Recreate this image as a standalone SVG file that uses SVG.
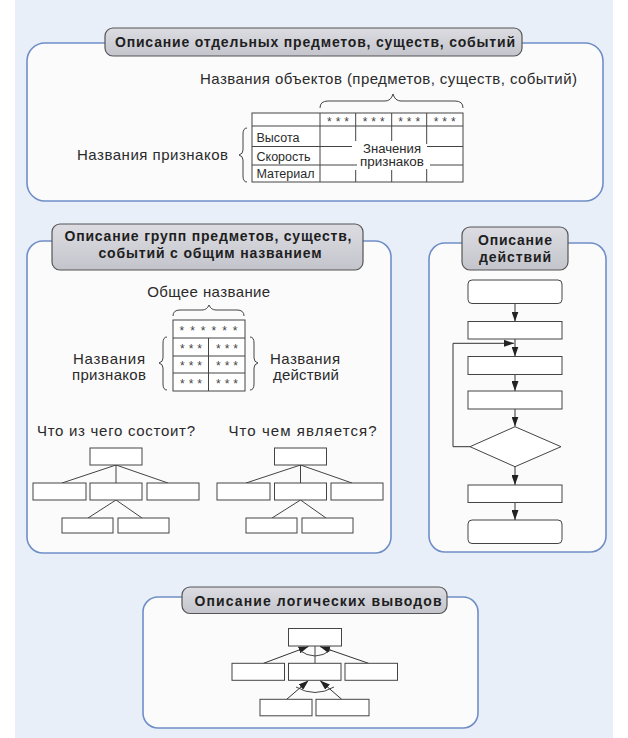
<svg xmlns="http://www.w3.org/2000/svg" width="628" height="738" viewBox="0 0 628 738">
<defs>
<linearGradient id="tg" x1="0" y1="0" x2="0" y2="1">
<stop offset="0" stop-color="#dcdce2"/>
<stop offset="1" stop-color="#c4c4cc"/>
</linearGradient>
<marker id="ah" markerUnits="userSpaceOnUse" markerWidth="10" markerHeight="7" refX="10" refY="3.5" orient="auto">
<path d="M0,0 L10,3.5 L0,7 z" fill="#222"/>
</marker>
</defs>
<style>
.panel{fill:#fbfbfc;stroke:#6f8ec6;stroke-width:1.6}
.tbox{fill:url(#tg);stroke:#555;stroke-width:1.2}
.tt{font-family:"Liberation Sans",Arial,sans-serif;font-weight:bold;font-size:14px;fill:#1e1e1e;text-anchor:middle}
.t{font-family:"Liberation Sans",Arial,sans-serif;font-size:15px;fill:#2a2a2a}
.ts{font-family:"Liberation Sans",Arial,sans-serif;font-size:12.5px;fill:#2a2a2a}
.st{font-family:"Liberation Sans",Arial,sans-serif;font-size:12px;fill:#444;text-anchor:middle}
.c{text-anchor:middle}
.b{fill:#fff;stroke:#444;stroke-width:1}
.ln{fill:none;stroke:#444;stroke-width:1}
.ar{fill:none;stroke:#333;stroke-width:1;marker-end:url(#ah)}
</style>
<rect x="0" y="0" width="628" height="738" fill="#ffffff"/>
<rect x="15" y="0" width="598" height="738" fill="#e9eff8"/>

<!-- Panel 1 -->
<g id="panel-objects">
<rect class="panel" x="27" y="43" width="576" height="158" rx="18"/>
<rect class="tbox" x="105" y="28" width="417" height="28" rx="8"/>
<text class="tt" x="315" y="47" textLength="400" lengthAdjust="spacing">Описание отдельных предметов, существ, событий</text>
<text class="t c" x="388.5" y="84" textLength="377" lengthAdjust="spacing">Названия объектов (предметов, существ, событий)</text>
<text class="t" x="77" y="160" textLength="151" lengthAdjust="spacing">Названия признаков</text>
<path class="ln" d="M320,108 Q320,101 328,101 L385,101 Q391,101 393,94 Q395,101 401,101 L455,101 Q463,101 463,108"/>
<path class="ln" d="M247,128 Q243,128 243,134 L243,150 Q243,154 239,155 Q243,156 243,160 L243,176 Q243,182 247,182"/>
<g id="table-objects">
<rect class="b" x="252" y="113" width="211" height="69"/>
<line class="ln" x1="252" y1="126" x2="463" y2="126"/>
<line class="ln" x1="320" y1="113" x2="320" y2="182"/>
<line class="ln" x1="252" y1="146.5" x2="352" y2="146.5"/>
<line class="ln" x1="427" y1="146.5" x2="463" y2="146.5"/>
<line class="ln" x1="252" y1="165" x2="357" y2="165"/>
<line class="ln" x1="430" y1="165" x2="463" y2="165"/>
<line class="ln" x1="355.7" y1="113" x2="355.7" y2="141"/>
<line class="ln" x1="355.7" y1="170" x2="355.7" y2="182"/>
<line class="ln" x1="391.7" y1="113" x2="391.7" y2="141"/>
<line class="ln" x1="391.7" y1="170" x2="391.7" y2="182"/>
<line class="ln" x1="426.7" y1="113" x2="426.7" y2="144"/>
<line class="ln" x1="426.7" y1="169" x2="426.7" y2="182"/>
<text class="st" x="338" y="125.5" textLength="22" lengthAdjust="spacing">* * *</text>
<text class="st" x="373.7" y="125.5" textLength="22" lengthAdjust="spacing">* * *</text>
<text class="st" x="409.2" y="125.5" textLength="22" lengthAdjust="spacing">* * *</text>
<text class="st" x="444.7" y="125.5" textLength="22" lengthAdjust="spacing">* * *</text>
<text class="ts" x="256.5" y="142" textLength="43" lengthAdjust="spacingAndGlyphs">Высота</text>
<text class="ts" x="256.5" y="160.5" textLength="54" lengthAdjust="spacingAndGlyphs">Скорость</text>
<text class="ts" x="256.5" y="178" textLength="58" lengthAdjust="spacingAndGlyphs">Материал</text>
<text class="ts c" x="392" y="152.5" textLength="58" lengthAdjust="spacingAndGlyphs">Значения</text>
<text class="ts c" x="392" y="166" textLength="64" lengthAdjust="spacingAndGlyphs">признаков</text>
</g>
</g>

<!-- Panel 2 -->
<g id="panel-groups">
<rect class="panel" x="27" y="241" width="364" height="312" rx="16"/>
<rect class="tbox" x="52" y="224" width="311" height="46" rx="8"/>
<text class="tt" x="208" y="241" textLength="287" lengthAdjust="spacing">Описание групп предметов, существ,</text>
<text class="tt" x="210" y="258" textLength="223" lengthAdjust="spacing">событий с общим названием</text>
<text class="t c" x="208.7" y="297" textLength="123" lengthAdjust="spacing">Общее название</text>
<path class="ln" d="M173,316 Q173,310 180,310 L202,310 Q207,310 209,305 Q211,310 216,310 L237,310 Q244,310 244,316"/>
<path class="ln" d="M167,337 Q163,337 163,343 L163,358 Q163,362 159,363 Q163,364 163,368 L163,384 Q163,390 167,390"/>
<path class="ln" d="M250,337 Q254,337 254,343 L254,358 Q254,362 258,363 Q254,364 254,368 L254,384 Q254,390 250,390"/>
<text class="t c" x="109" y="364" textLength="72" lengthAdjust="spacing">Названия</text>
<text class="t c" x="109" y="380" textLength="74" lengthAdjust="spacing">признаков</text>
<text class="t c" x="305" y="364" textLength="70" lengthAdjust="spacing">Названия</text>
<text class="t c" x="306" y="380" textLength="66" lengthAdjust="spacing">действий</text>
<g id="table-groups">
<rect class="b" x="173" y="320" width="72" height="71"/>
<line class="ln" x1="173" y1="338" x2="245" y2="338"/>
<line class="ln" x1="173" y1="356" x2="245" y2="356"/>
<line class="ln" x1="173" y1="373" x2="245" y2="373"/>
<line class="ln" x1="208.5" y1="338" x2="208.5" y2="391"/>
<text class="st" x="208.5" y="334.5" textLength="58" lengthAdjust="spacing">* * * * * *</text>
<text class="st" x="191" y="352.5" textLength="22" lengthAdjust="spacing">* * *</text>
<text class="st" x="227" y="352.5" textLength="22" lengthAdjust="spacing">* * *</text>
<text class="st" x="191" y="370" textLength="22" lengthAdjust="spacing">* * *</text>
<text class="st" x="227" y="370" textLength="22" lengthAdjust="spacing">* * *</text>
<text class="st" x="191" y="387.5" textLength="22" lengthAdjust="spacing">* * *</text>
<text class="st" x="227" y="387.5" textLength="22" lengthAdjust="spacing">* * *</text>
</g>
<text class="t" x="37" y="436" textLength="158" lengthAdjust="spacing">Что из чего состоит?</text>
<text class="t" x="228.5" y="436" textLength="148" lengthAdjust="spacing">Что чем является?</text>
</g>

<!-- Tree 1 -->
<g id="tree1-connectors">
<path class="ln" d="M116,465 L62,483 M116,465 L116,483 M116,465 L168,483 M116,500 L88,518 M116,500 L142,518"/>
</g>
<g id="tree1-n1"><rect class="b" x="90" y="448" width="52" height="17"/></g>
<g id="tree1-n2"><rect class="b" x="33" y="483" width="53" height="17"/></g>
<g id="tree1-n3"><rect class="b" x="90" y="483" width="52" height="17"/></g>
<g id="tree1-n4"><rect class="b" x="147" y="483" width="52" height="17"/></g>
<g id="tree1-n5"><rect class="b" x="62" y="518" width="51" height="15"/></g>
<g id="tree1-n6"><rect class="b" x="118" y="518" width="51" height="15"/></g>

<!-- Tree 2 -->
<g id="tree2-connectors">
<path class="ln" d="M300.5,465 L246,483 M300.5,465 L300.5,483 M300.5,465 L352,483 M300.5,500 L272,518 M300.5,500 L326,518"/>
</g>
<g id="tree2-n1"><rect class="b" x="274.5" y="448" width="52" height="17"/></g>
<g id="tree2-n2"><rect class="b" x="217" y="483" width="53" height="17"/></g>
<g id="tree2-n3"><rect class="b" x="274.5" y="483" width="52" height="17"/></g>
<g id="tree2-n4"><rect class="b" x="331" y="483" width="52" height="17"/></g>
<g id="tree2-n5"><rect class="b" x="246" y="518" width="51" height="15"/></g>
<g id="tree2-n6"><rect class="b" x="302" y="518" width="51" height="15"/></g>

<!-- Panel 3 -->
<g id="panel-actions">
<rect class="panel" x="429" y="243" width="177" height="309" rx="16"/>
<rect class="tbox" x="462" y="227" width="106" height="43" rx="8"/>
<text class="tt" x="515" y="245" textLength="74" lengthAdjust="spacing">Описание</text>
<text class="tt" x="515" y="262" textLength="72" lengthAdjust="spacing">действий</text>
</g>
<g id="flow-connectors">
<line class="ar" x1="515" y1="303.5" x2="515" y2="321.5"/>
<line class="ar" x1="515" y1="339" x2="515" y2="356.5"/>
<line class="ar" x1="515" y1="374.5" x2="515" y2="391"/>
<line class="ar" x1="515" y1="409" x2="515" y2="426.5"/>
<line class="ar" x1="515" y1="467" x2="515" y2="485"/>
<line class="ar" x1="515" y1="502.5" x2="515" y2="520"/>
<path class="ar" d="M470,446.7 H453 V343.3 H514"/>
</g>
<g id="flow-start"><rect class="b" x="468" y="280" width="94" height="23.5" rx="4"/></g>
<g id="flow-step1"><rect class="b" x="468" y="321.5" width="94" height="17.5"/></g>
<g id="flow-step2"><rect class="b" x="468" y="356.5" width="94" height="18"/></g>
<g id="flow-step3"><rect class="b" x="468" y="391" width="94" height="18"/></g>
<g id="flow-decision"><path class="b" d="M515,426.7 L561,446.7 L515,466.7 L470,446.7 Z"/></g>
<g id="flow-step4"><rect class="b" x="468" y="485" width="94" height="17.5"/></g>
<g id="flow-end"><rect class="b" x="468" y="520" width="94" height="23.5" rx="4"/></g>

<!-- Panel 4 -->
<g id="panel-logic">
<rect class="panel" x="143" y="597" width="335" height="131" rx="15"/>
<rect class="tbox" x="182" y="587" width="265" height="26.5" rx="8"/>
<text class="tt" x="318" y="605.5" textLength="247" lengthAdjust="spacing">Описание логических выводов</text>
</g>
<g id="logic-connectors">
<line class="ar" x1="263.5" y1="663.3" x2="308.5" y2="646.5"/>
<line class="ln" x1="315" y1="663.3" x2="315" y2="646"/>
<line class="ar" x1="368.5" y1="663.3" x2="320" y2="646.5"/>
<path class="ln" d="M299,650 Q315,662 331,650"/>
<line class="ar" x1="286.7" y1="699.3" x2="308.5" y2="680.5"/>
<line class="ar" x1="341.7" y1="699.3" x2="320" y2="680.5"/>
<path class="ln" d="M296,687 Q315,698 334,687"/>
</g>
<g id="logic-top"><rect class="b" x="288.5" y="628.5" width="53" height="17.5"/></g>
<g id="logic-m1"><rect class="b" x="232" y="663.3" width="52.5" height="17"/></g>
<g id="logic-m2"><rect class="b" x="288.5" y="663.3" width="52.5" height="17"/></g>
<g id="logic-m3"><rect class="b" x="345" y="663.3" width="52.5" height="17"/></g>
<g id="logic-b1"><rect class="b" x="260" y="699.3" width="52" height="16.5"/></g>
<g id="logic-b2"><rect class="b" x="316" y="699.3" width="53" height="16.5"/></g>
</svg>
